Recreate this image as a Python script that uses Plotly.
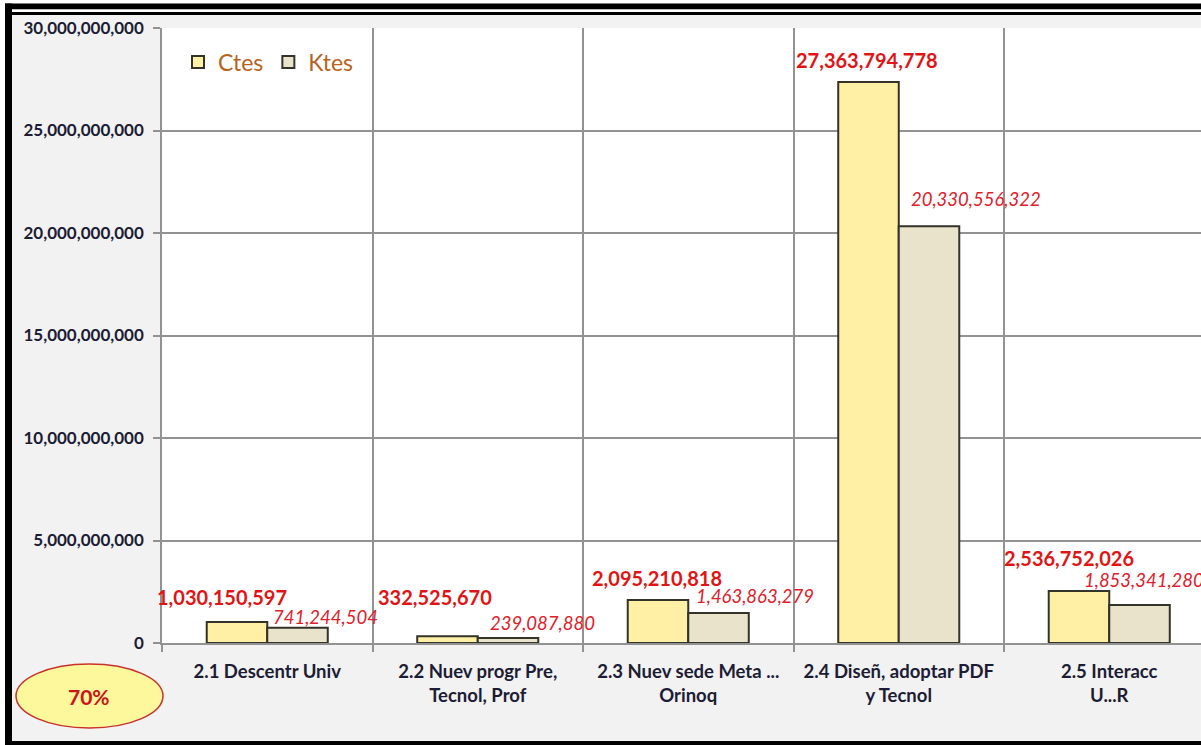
import plotly.graph_objects as go

categories = ["2.1 Descentr Univ", "2.2 Nuev progr Pre,<br>Tecnol, Prof",
              "2.3 Nuev sede Meta ...<br>Orinoq", "2.4 Diseñ, adoptar PDF<br>y Tecnol",
              "2.5 Interacc<br>U...R"]
ctes = [1030150597, 332525670, 2095210818, 27363794778, 2536752026]
ktes = [741244504, 239087880, 1463863279, 20330556322, 1853341280]
y_ticks = [0, 5e9, 10e9, 15e9, 20e9, 25e9, 30e9]
badge_text = "70%"

# label offsets (pixels) relative to category centre / bar top
ctes_off = [(-45, 25), (-43, 39), (-31, 22), (-32, 22), (-40, 33)]
ktes_off = [(58, 11), (65, 15), (67, 17), (77, 27), (35, 25)]

W, H = 1201, 745
L, T, B = 162, 28, 102
PW, PH = W - L, H - T - B


def px(x):
    return (x - L) / PW


def py(y):
    return (H - B - y) / PH


FONT = "Lato"
GRID = "#929292"
TXT = "#1c1c34"

fig = go.Figure()
fig.add_bar(name="Ctes", x=categories, y=ctes,
            marker=dict(color="#fff0a6", line=dict(color="#33332a", width=2)))
fig.add_bar(name="Ktes", x=categories, y=ktes,
            marker=dict(color="#e9e3cc", line=dict(color="#33332a", width=2)))

ann = []
for c, v, (dx, dy) in zip(categories, ctes, ctes_off):
    ann.append(dict(x=c, y=v, xref="x", yref="y", text=f"{v:,}", showarrow=False,
                    xshift=dx, yshift=dy, xanchor="center", yanchor="middle",
                    font=dict(family=FONT, size=20, color="#e01414", weight="bold")))
for c, v, (dx, dy) in zip(categories, ktes, ktes_off):
    ann.append(dict(x=c, y=v, xref="x", yref="y", text=f"<i>{v:,}</i>", showarrow=False,
                    xshift=dx, yshift=dy, xanchor="center", yanchor="middle",
                    font=dict(family=FONT, size=18.5, color="#e0202a")))
ann.append(dict(x=px(89), y=py(696), xref="paper", yref="paper", text=badge_text,
                showarrow=False, xanchor="center", yanchor="middle",
                font=dict(family=FONT, size=21, color="#c8141a", weight="bold")))

shapes = [
    # outer white strips
    dict(type="rect", xref="paper", yref="paper", x0=px(0), x1=px(W), y0=py(0), y1=py(3.5),
         fillcolor="white", line_width=0),
    dict(type="rect", xref="paper", yref="paper", x0=px(0), x1=px(5), y0=py(0), y1=py(H),
         fillcolor="white", line_width=0),
    # black frame
    dict(type="rect", xref="paper", yref="paper", x0=px(5), x1=px(W), y0=py(3.5), y1=py(9.5),
         fillcolor="black", line_width=0),
    dict(type="rect", xref="paper", yref="paper", x0=px(5), x1=px(W), y0=py(9.5), y1=py(12),
         fillcolor="white", line_width=0),
    dict(type="rect", xref="paper", yref="paper", x0=px(5), x1=px(W), y0=py(12), y1=py(15),
         fillcolor="black", line_width=0),
    dict(type="rect", xref="paper", yref="paper", x0=px(5), x1=px(12), y0=py(3.5), y1=py(H),
         fillcolor="black", line_width=0),
    dict(type="rect", xref="paper", yref="paper", x0=px(5), x1=px(W), y0=py(741), y1=py(H),
         fillcolor="black", line_width=0),
    # badge ellipse
    dict(type="circle", xref="paper", yref="paper", x0=px(16), x1=px(163), y0=py(664), y1=py(728),
         fillcolor="#fdf89c", line=dict(color="#c8322c", width=1.5)),
]

fig.update_layout(
    width=W, height=H,
    margin=dict(l=L, r=0, t=T, b=B, pad=0),
    paper_bgcolor="#f2f2f2", plot_bgcolor="white",
    barmode="group", bargap=0.425, bargroupgap=0,
    font=dict(family=FONT, color=TXT),
    showlegend=True,
    legend=dict(orientation="h", x=px(178), y=py(62), xanchor="left", yanchor="middle",
                bgcolor="rgba(0,0,0,0)", itemwidth=30,
                font=dict(family=FONT, size=23, color="#b8621b")),
    annotations=ann, shapes=shapes,
)
fig.update_xaxes(type="category", range=[-0.5, -0.5 + PW / (1052.5 / 5)],
                 tickson="boundaries", ticks="outside", ticklen=7, tickcolor=GRID, tickwidth=1.5,
                 ticklabelstandoff=11,
                 showgrid=True, gridcolor=GRID, gridwidth=1.5,
                 showline=True, linecolor=GRID, linewidth=1.5,
                 tickfont=dict(family=FONT, size=18.5, color=TXT, weight="bold"))
fig.update_yaxes(range=[0, 30e9], tickvals=y_ticks, tickformat=",d",
                 ticks="outside", ticklen=7, tickcolor=GRID, tickwidth=1.5,
                 ticklabelstandoff=6,
                 showgrid=True, gridcolor=GRID, gridwidth=1.5, zeroline=False,
                 showline=True, linecolor=GRID, linewidth=1.5,
                 tickfont=dict(family=FONT, size=17, color=TXT, weight="bold"))

fig.write_html("out.html", config={"displayModeBar": False},
               post_script="document.body.style.margin='0';document.body.style.overflow='hidden';")
